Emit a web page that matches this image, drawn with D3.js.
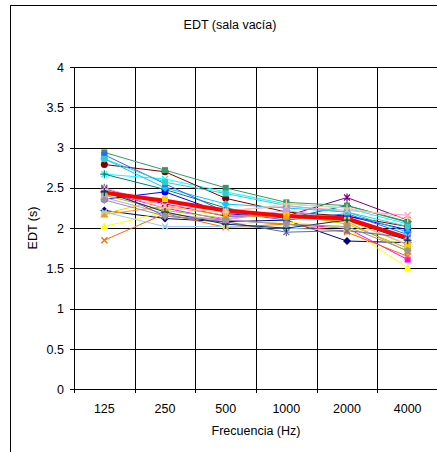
<!DOCTYPE html>
<html>
<head>
<meta charset="utf-8">
<script src="https://cdn.jsdelivr.net/npm/d3@7"></script>
<style>
  body { margin: 0; background: #fff; }
  svg { display: block; font-family: "Liberation Sans", Arial, sans-serif; }
</style>
</head>
<body>
<svg width="437" height="452"></svg>
<script>
// frequency bands
var bands = ["125", "250", "500", "1000", "2000", "4000"];

// one array per measuring point (EDT, s)
var p01 = [2.22, 2.12, 2.08, 2.10, 1.84, 1.82];
var p02 = [2.45, 2.25, 2.10, 2.05, 2.00, 1.61];
var p03 = [2.02, 2.20, 2.05, 2.08, 2.00, 1.51];
var p04 = [2.67, 2.61, 2.45, 2.30, 2.25, 2.05];
var p05 = [2.48, 2.30, 2.15, 2.15, 2.38, 2.10];
var p06 = [2.79, 2.70, 2.37, 2.20, 2.15, 2.02];
var p07 = [2.67, 2.48, 2.25, 2.12, 2.28, 2.08];
var p08 = [2.36, 2.45, 2.18, 2.13, 2.15, 1.98];
var p09 = [2.86, 2.50, 2.30, 2.25, 2.20, 1.95];
var p10 = [2.94, 2.72, 2.50, 2.32, 2.28, 2.07];
var p11 = [2.91, 2.55, 2.20, 2.10, 2.18, 1.92];
var p12 = [2.86, 2.57, 2.43, 2.28, 2.20, 2.02];
var p13 = [2.41, 2.22, 2.12, 2.18, 2.05, 1.75];
var p14 = [2.38, 2.18, 2.10, 2.22, 2.10, 1.80];
var p15 = [2.18, 2.36, 2.20, 2.16, 2.10, 1.79];
var p16 = [2.17, 2.27, 2.16, 2.14, 2.08, 1.71];
var p17 = [1.85, 2.18, 2.01, 2.05, 1.95, 1.65];
var p18 = [2.20, 2.02, 2.02, 2.00, 1.97, 1.90];
var p19 = [2.50, 2.28, 2.22, 2.27, 2.22, 2.16];
var p20 = [2.50, 2.15, 2.08, 1.95, 1.97, 1.88];
var p21 = [2.48, 2.25, 2.20, 2.30, 2.25, 2.12];
var p22 = [2.45, 2.20, 2.05, 2.00, 2.10, 1.85];
var p23 = [2.35, 2.15, 2.10, 2.05, 2.02, 1.72];
var media = [2.44, 2.34, 2.22, 2.15, 2.12, 1.88];

var yTicks = [0, 0.5, 1, 1.5, 2, 2.5, 3, 3.5, 4];

var series = [
  {v: p01, c: "#000080", m: "diamond"},
  {v: p02, c: "#FF00FF", m: "square"},
  {v: p03, c: "#FFFF00", m: "triangle"},
  {v: p04, c: "#00FFFF", m: "x"},
  {v: p05, c: "#800080", m: "star"},
  {v: p06, c: "#800000", m: "circle"},
  {v: p07, c: "#008080", m: "plus"},
  {v: p08, c: "#0000FF", m: "circle"},
  {v: p09, c: "#00CCFF", m: "diamond"},
  {v: p10, c: "#339966", m: "square"},
  {v: p11, c: "#3366FF", m: "square"},
  {v: p12, c: "#33CCCC", m: "square"},
  {v: p13, c: "#99CC00", m: "circle"},
  {v: p14, c: "#CC99FF", m: "circle"},
  {v: p15, c: "#FFCC00", m: "square"},
  {v: p16, c: "#FF9900", m: "triangle"},
  {v: p17, c: "#FF6600", m: "x"},
  {v: p18, c: "#99CCFF", m: "x"},
  {v: p19, c: "#FF99CC", m: "x"},
  {v: p20, c: "#666699", m: "star"},
  {v: p21, c: "#FFCC99", m: "plus"},
  {v: p22, c: "#003366", m: "plus"},
  {v: p23, c: "#969696", m: "diamond"}
];

var svg = d3.select("svg"),
    margin = {top: 67, left: 74, right: 438, bottom: 389.3};

var x = d3.scaleBand().domain(bands).range([margin.left, margin.right]);
var y = d3.scaleLinear().domain([0, 4]).range([margin.bottom, margin.top]);

// outer frame of the chart object
svg.append("rect")
  .attr("x", 10.5).attr("y", 5.5)
  .attr("width", 460).attr("height", 470)
  .attr("fill", "#fff").attr("stroke", "#000").attr("stroke-width", 1);

svg.append("text")
  .attr("x", 230).attr("y", 29)
  .attr("text-anchor", "middle")
  .style("font-size", "12.5px")
  .text("EDT (sala vacía)");

// grid
var g = svg.append("g");
g.selectAll(".hgrid").data(yTicks).enter().append("line")
  .attr("x1", margin.left - 4).attr("x2", margin.right)
  .attr("y1", function(d) { return Math.round(y(d)) + 0.5; })
  .attr("y2", function(d) { return Math.round(y(d)) + 0.5; })
  .attr("stroke", "#000");

var bounds = bands.map(function(b) { return x(b); }).concat([margin.right]);
g.selectAll(".vgrid").data(bounds).enter().append("line")
  .attr("x1", function(d) { return Math.round(d) + 0.5; })
  .attr("x2", function(d) { return Math.round(d) + 0.5; })
  .attr("y1", margin.top).attr("y2", Math.round(margin.bottom) + 4)
  .attr("stroke", "#000");

// tick labels
g.selectAll(".ylab").data(yTicks).enter().append("text")
  .attr("x", margin.left - 10)
  .attr("y", function(d) { return y(d) + 4.5; })
  .attr("text-anchor", "end")
  .style("font-size", "12.5px")
  .text(function(d) { return d; });

g.selectAll(".xlab").data(bands).enter().append("text")
  .attr("x", function(d) { return x(d) + x.bandwidth() / 2; })
  .attr("y", 412.5)
  .attr("text-anchor", "middle")
  .style("font-size", "12.5px")
  .text(function(d) { return d; });

svg.append("text")
  .attr("x", 256).attr("y", 434.5)
  .attr("text-anchor", "middle")
  .style("font-size", "12.5px")
  .text("Frecuencia (Hz)");

svg.append("text")
  .attr("transform", "translate(37,228) rotate(-90)")
  .attr("text-anchor", "middle")
  .style("font-size", "12.5px")
  .text("EDT (s)");

var cx = function(i) { return x(bands[i]) + x.bandwidth() / 2; };
var line = d3.line()
  .x(function(d, i) { return cx(i); })
  .y(function(d) { return y(d); });

function marker(sel, type, col) {
  var s = 3;
  if (type == "diamond") sel.append("path").attr("d", "M0,-4L4,0L0,4L-4,0Z").attr("fill", col);
  else if (type == "square") sel.append("rect").attr("x", -s).attr("y", -s).attr("width", 2*s).attr("height", 2*s).attr("fill", col);
  else if (type == "triangle") sel.append("path").attr("d", "M0,-4L4,3L-4,3Z").attr("fill", col);
  else if (type == "circle") sel.append("circle").attr("r", 3.5).attr("fill", col);
  else if (type == "x") sel.append("path").attr("d", "M-3,-3L3,3M-3,3L3,-3").attr("stroke", col).attr("stroke-width", 1.2);
  else if (type == "star") sel.append("path").attr("d", "M-3,-3L3,3M-3,3L3,-3M0,-4L0,4").attr("stroke", col).attr("stroke-width", 1.2);
  else if (type == "plus") sel.append("path").attr("d", "M-4,0L4,0M0,-4L0,4").attr("stroke", col).attr("stroke-width", 1.2);
}

var sg = svg.append("g");
series.forEach(function(s) {
  sg.append("path")
    .attr("d", line(s.v))
    .attr("fill", "none")
    .attr("stroke", s.c)
    .attr("stroke-width", 1);
});

// average
sg.append("path")
  .attr("d", line(media))
  .attr("fill", "none")
  .attr("stroke", "#FF0000")
  .attr("stroke-width", 4);

series.forEach(function(s) {
  s.v.forEach(function(v, i) {
    var m = sg.append("g").attr("transform", "translate(" + cx(i) + "," + y(v) + ")");
    marker(m, s.m, s.c);
  });
});
</script>
</body>
</html>
